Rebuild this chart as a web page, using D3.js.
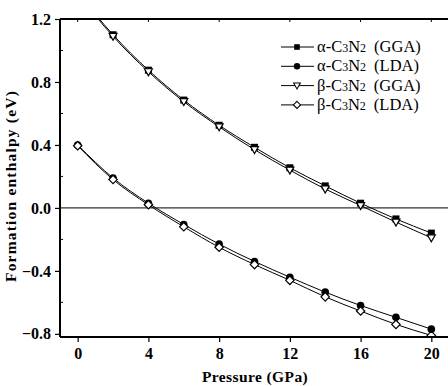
<html>
<head>
  <script src="https://d3js.org/d3.v7.min.js"></script>
  <style>
    body { margin: 0; background: white; }
    text { font-family: "Liberation Serif", "Times New Roman", serif; }
  </style>
</head>
<body>
  <svg id="chart" width="448" height="386" style="background: white;"></svg>
  <script>
    // pressure (GPa)
    const pressure = [0, 2, 4, 6, 8, 10, 12, 14, 16, 18, 20];
    // formation enthalpy (eV)
    const alphaGGA = [1.37, 1.10, 0.875, 0.685, 0.525, 0.385, 0.255, 0.14, 0.03, -0.07, -0.16];
    const betaGGA = [1.36, 1.09, 0.865, 0.675, 0.515, 0.37, 0.24, 0.12, 0.015, -0.09, -0.19];
    const alphaLDA = [0.40, 0.19, 0.03, -0.105, -0.23, -0.34, -0.44, -0.535, -0.62, -0.695, -0.77];
    const betaLDA = [0.395, 0.18, 0.02, -0.12, -0.25, -0.36, -0.46, -0.565, -0.655, -0.74, -0.81];

    const xTicks = [0, 4, 8, 12, 16, 20];
    const yTicks = [-0.8, -0.4, 0.0, 0.4, 0.8, 1.2];
    const yMinor = [-0.6, -0.2, 0.2, 0.6, 1.0];

    const series = [
      { name: "α-C", tail: "GGA", values: alphaGGA, marker: "square" },
      { name: "α-C", tail: "LDA", values: alphaLDA, marker: "circle" },
      { name: "β-C", tail: "GGA", values: betaGGA, marker: "triangle" },
      { name: "β-C", tail: "LDA", values: betaLDA, marker: "diamond" }
    ];

    const svg = d3.select("svg#chart");
    const mLeft = 60, mTop = 19, mRight = 449, mBottom = 337;

    const x = d3.scaleLinear().domain([-1, 21]).range([mLeft, mRight]);
    const y = d3.scaleLinear().domain([-0.82, 1.2]).range([mBottom, mTop]);

    svg.append("defs").append("clipPath").attr("id", "plot")
      .append("rect").attr("x", mLeft).attr("y", mTop).attr("width", mRight - mLeft).attr("height", mBottom - mTop);

    // zero line
    svg.append("line")
      .attr("x1", mLeft).attr("x2", mRight)
      .attr("y1", y(0)).attr("y2", y(0))
      .style("stroke", "black").style("stroke-width", 1);

    const line = d3.line()
      .x((d, i) => x(pressure[i]))
      .y(d => y(d))
      .curve(d3.curveMonotoneX);

    const plot = svg.append("g").attr("clip-path", "url(#plot)");

    series.forEach(s => {
      plot.append("path")
        .attr("d", line(s.values))
        .attr("fill", "none")
        .attr("stroke", "black")
        .attr("stroke-width", 1);
    });

    function drawMarker(g, type, cx, cy) {
      if (type === "square") {
        g.append("rect").attr("x", cx - 3.5).attr("y", cy - 3.5).attr("width", 7).attr("height", 7)
          .attr("fill", "black");
      } else if (type === "circle") {
        g.append("circle").attr("cx", cx).attr("cy", cy).attr("r", 3.8).attr("fill", "black");
      } else if (type === "triangle") {
        g.append("path")
          .attr("d", `M${cx - 4},${cy - 3} L${cx + 4},${cy - 3} L${cx},${cy + 4} Z`)
          .attr("fill", "white").attr("stroke", "black").attr("stroke-width", 1.2);
      } else {
        g.append("path")
          .attr("d", `M${cx},${cy - 4.2} L${cx + 4.2},${cy} L${cx},${cy + 4.2} L${cx - 4.2},${cy} Z`)
          .attr("fill", "white").attr("stroke", "black").attr("stroke-width", 1.2);
      }
    }

    series.forEach(s => {
      const g = plot.append("g");
      s.values.forEach((v, i) => drawMarker(g, s.marker, x(pressure[i]), y(v)));
    });

    // axes
    const xAxis = d3.axisBottom(x).tickValues(xTicks).tickSize(5).tickFormat(d3.format("d"));
    const gx = svg.append("g").attr("transform", `translate(0,${mBottom})`).call(xAxis);
    gx.select(".domain").attr("d", `M${mLeft},0H${mRight}`).style("stroke-width", 2);
    gx.selectAll(".tick line").style("stroke-width", 1.2);
    gx.selectAll("text").attr("dy", "0.3em").attr("y", 17)
      .style("font-size", "16px").style("font-weight", "bold");

    const yAxis = d3.axisLeft(y).tickValues(yTicks).tickSize(5).tickFormat(d3.format(".1f"));
    const gy = svg.append("g").attr("transform", `translate(${mLeft},0)`).call(yAxis);
    gy.select(".domain").attr("d", `M0,${mTop}V${mBottom}`).style("stroke-width", 2);
    gy.selectAll(".tick line").style("stroke-width", 1.2);
    gy.selectAll("text").attr("x", -9)
      .style("font-size", "16px").style("font-weight", "bold");

    // minor ticks on left axis (inside)
    yMinor.forEach(v => {
      svg.append("line").attr("x1", mLeft).attr("x2", mLeft + 3)
        .attr("y1", y(v)).attr("y2", y(v))
        .style("stroke", "black").style("stroke-width", 1);
    });

    // top frame
    svg.append("line").attr("x1", mLeft).attr("x2", mRight)
      .attr("y1", mTop).attr("y2", mTop)
      .style("stroke", "black").style("stroke-width", 2);
    xTicks.forEach(v => {
      svg.append("line").attr("x1", x(v)).attr("x2", x(v))
        .attr("y1", mTop).attr("y2", mTop + 3)
        .style("stroke", "black").style("stroke-width", 1);
    });

    // axis titles
    svg.append("text")
      .attr("x", 255).attr("y", 382)
      .attr("text-anchor", "middle")
      .style("font-size", "15.5px").style("font-weight", "bold")
      .style("letter-spacing", "0.4px")
      .text("Pressure (GPa)");

    svg.append("text")
      .attr("transform", `translate(16,${(mTop + mBottom) / 2 + 8}) rotate(-90)`)
      .attr("text-anchor", "middle")
      .style("font-size", "15.5px").style("font-weight", "bold")
      .style("letter-spacing", "1.2px")
      .text("Formation enthalpy (eV)");

    // legend
    const legend = svg.append("g");
    series.forEach((s, i) => {
      const ly = 47 + i * 19.3;
      legend.append("line").attr("x1", 281).attr("x2", 314)
        .attr("y1", ly).attr("y2", ly)
        .style("stroke", "black").style("stroke-width", 1);
      const mg = legend.append("g");
      const scaleDown = { square: 0.8, circle: 0.85, triangle: 0.85, diamond: 0.85 };
      mg.attr("transform", `translate(297,${ly}) scale(${scaleDown[s.marker]}) translate(-297,${-ly})`);
      drawMarker(mg, s.marker, 297, ly);
      const t = legend.append("text").attr("x", 317).attr("y", ly + 5)
        .style("font-size", "16.5px");
      t.append("tspan").text(s.name);
      t.append("tspan").style("font-size", "12px").text("3");
      t.append("tspan").text("N");
      t.append("tspan").style("font-size", "12px").text("2");
      t.append("tspan").attr("dx", 8).text(`(${s.tail})`);
    });
  </script>
</body>
</html>
